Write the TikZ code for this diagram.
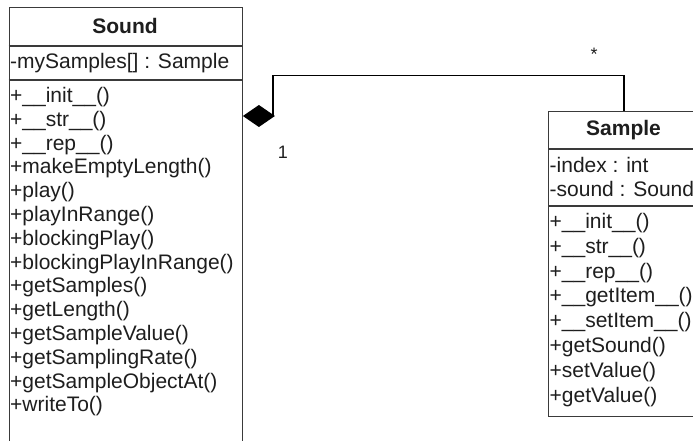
\documentclass[tikz,border=0pt]{standalone}
\usepackage{fontspec}
\setmainfont{Liberation Sans}
\usetikzlibrary{arrows.meta,calc}
\definecolor{linec}{HTML}{3A3A3A}
\definecolor{txt}{HTML}{1E1E1E}
\begin{document}
\begin{tikzpicture}[x=1pt,y=-1pt,
  box/.style={draw=linec, line width=1.4pt, fill=white, anchor=north west, inner sep=0},
  sep/.style={draw=linec, line width=1.4pt},
  title/.style={font=\fontsize{21}{24}\bfseries\selectfont, text=txt, inner sep=0},
  item/.style={font=\fontsize{21}{24}\selectfont, text=txt, anchor=west, inner sep=0},
  conn/.style={draw=black, line width=1.3pt, -{Diamond[length=32pt,width=22pt,fill=black]}},
  mult/.style={font=\fontsize{18}{20}\selectfont, text=txt, inner sep=0}]
\useasboundingbox (0,0) rectangle (693,441);
\clip (0,0) rectangle (693,441);
\fill[white] (0,0) rectangle (693,441);

% Sound class
\node[box, minimum width=233pt, minimum height=460pt] (sound) at (8.5,7) {};
\draw[sep] (sound.west |- 0,46) -- (sound.east |- 0,46);
\draw[sep] (sound.west |- 0,80) -- (sound.east |- 0,80);
\node[title] (soundT) at (125,26) {Sound};
\node[item] (sa0) at (10,63) {-mySamples[] : Sample};
\foreach \t [count=\i from 0] in {{+\_\_init\_\_()},{+\_\_str\_\_()},{+\_\_rep\_\_()},
  {+makeEmptyLength()},{+play()},{+playInRange()},{+blockingPlay()},
  {+blockingPlayInRange()},{+getSamples()},{+getLength()},{+getSampleValue()},
  {+getSamplingRate()},{+getSampleObjectAt()},{+writeTo()}}
  \node[item] (sm\i) at (10,{97+23.8*\i}) {\t};

% Sample class
\node[box, minimum width=151pt, minimum height=305pt] (sample) at (548,111) {};
\draw[sep] (sample.west |- 0,149) -- (sample.east |- 0,149);
\draw[sep] (sample.west |- 0,206) -- (sample.east |- 0,206);
\node[title] (sampleT) at (623.5,130) {Sample};
\node[item] (pa0) at (549.5,165) {-index : int};
\node[item] (pa1) at (549.5,189) {-sound : Sound};
\foreach \t [count=\i from 0] in {{+\_\_init\_\_()},{+\_\_str\_\_()},{+\_\_rep\_\_()},
  {+\_\_getItem\_\_()},{+\_\_setItem\_\_()},{+getSound()},{+setValue()},{+getValue()}}
  \node[item] (pm\i) at (549.5,{223+24.8*\i}) {\t};

% composition
\draw[conn] ([xshift=76pt]sample.north west) |- (273,75.5) -- (273,116) -- (sound.east |- 0,116);
\node[mult] (m1) at (283,152) {1};
\node[mult] (m2) at (594,54) {*};
\end{tikzpicture}
\end{document}
